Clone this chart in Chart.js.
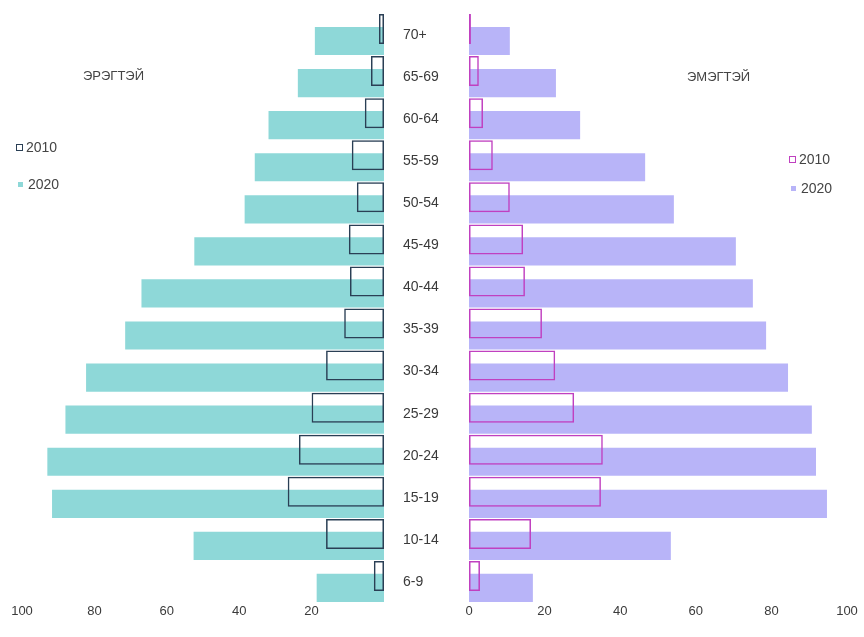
<!DOCTYPE html>
<html>
<head>
<meta charset="utf-8">
<script src="https://cdn.jsdelivr.net/npm/chart.js@4"></script>
<style>
    body { margin: 0; background: #fff; }
    #wrap { position: relative; width: 864px; height: 637px; font-family: "Liberation Sans", Arial, sans-serif; color: #3a3a3a; }
    canvas { position: absolute; top: 0; }
    #leftChart { left: 0; }
    #rightChart { left: 400px; }
    .label { position: absolute; font-size: 13px; white-space: nowrap; color: #444; }
    .leg { position: absolute; font-size: 14px; display: flex; align-items: center; color: #444; }
    .box { display: inline-block; width: 7px; height: 7px; margin-right: 3px; box-sizing: border-box; }
</style>
</head>
<body>
<div id="wrap">
    <canvas id="leftChart" width="400" height="637"></canvas>
    <canvas id="rightChart" width="464" height="637"></canvas>

    <div class="label" style="left:83px; top:68px;">ЭРЭГТЭЙ</div>
    <div class="label" style="left:687px; top:69px;">ЭМЭГТЭЙ</div>

    <div class="leg" style="left:16px; top:139px;"><span class="box" style="border:1.5px solid #2a3f55;"></span>2010</div>
    <div class="leg" style="left:16px; top:176px;"><span class="box" style="background:#8ed8d8; width:5px; height:5px; margin:0 5px 0 2px;"></span>2020</div>

    <div class="leg" style="left:789px; top:151px;"><span class="box" style="border:1.5px solid #c040c0;"></span>2010</div>
    <div class="leg" style="left:789px; top:180px;"><span class="box" style="background:#b8b4f8; width:5px; height:5px; margin:0 5px 0 2px;"></span>2020</div>
</div>

<script>
const ageGroups = ['70+', '65-69', '60-64', '55-59', '50-54', '45-49', '40-44', '35-39', '30-34', '25-29', '20-24', '15-19', '10-14', '6-9'];

const male2010 = [1.4, 3.6, 5.3, 8.9, 7.5, 9.7, 9.4, 11, 16, 20, 23.5, 26.6, 16, 2.8];
const male2020 = [19.1, 23.8, 31.9, 35.7, 38.5, 52.4, 67, 71.5, 82.3, 88, 93, 91.7, 52.6, 18.6];

const female2010 = [0.5, 2.6, 3.7, 6.3, 10.8, 14.3, 14.8, 19.3, 22.8, 27.8, 35.4, 34.9, 16.4, 2.9];
const female2020 = [10.8, 23, 29.4, 46.6, 54.2, 70.6, 75.1, 78.6, 84.4, 90.7, 91.8, 94.7, 53.4, 16.9];

const axisTicks = [0, 20, 40, 60, 80, 100];

Chart.defaults.font.family = '"Liberation Sans", Arial, sans-serif';
Chart.defaults.color = '#3a3a3a';

function barSets(old, now, lineColor, fillColor) {
    return [
        {
            label: '2010',
            data: old,
            backgroundColor: 'rgba(0,0,0,0)',
            borderColor: lineColor,
            borderWidth: 1.5,
            borderSkipped: false,
            categoryPercentage: 0.57,
            barPercentage: 2.5,
        },
        {
            label: '2020',
            data: now,
            backgroundColor: fillColor,
            borderWidth: 0,
            categoryPercentage: 0.57,
            barPercentage: 2.35,
        }
    ];
}

function xAxis(reverse, showZero) {
    return {
        type: 'linear',
        reverse: reverse,
        min: 0,
        max: 100,
        afterBuildTicks: (scale) => {
            scale.ticks = axisTicks.map(v => ({ value: v }));
        },
        afterFit: (scale) => { scale.height = 34; },
        grid: { display: false, drawTicks: false },
        border: { display: false },
        ticks: {
            padding: 1,
            font: { size: 13 },
            callback: (v) => (v === 0 && !showZero) ? '' : v,
        }
    };
}

const common = {
    indexAxis: 'y',
    responsive: false,
    devicePixelRatio: 1,
    animation: false,
    plugins: {
        legend: { display: false },
        tooltip: { enabled: false },
    },
};

new Chart(document.getElementById('leftChart'), {
    type: 'bar',
    data: {
        labels: ageGroups,
        datasets: barSets(male2010, male2020, '#2a3f55', '#8ed8d8'),
    },
    options: {
        ...common,
        layout: { padding: { left: 22, right: 16, top: 14, bottom: 0 } },
        scales: {
            x: xAxis(true, false),
            y: { display: false },
        }
    }
});

new Chart(document.getElementById('rightChart'), {
    type: 'bar',
    data: {
        labels: ageGroups,
        datasets: barSets(female2010, female2020, '#c040c0', '#b8b4f8'),
    },
    options: {
        ...common,
        layout: { padding: { left: 3, right: 17, top: 14, bottom: 0 } },
        scales: {
            x: xAxis(false, true),
            y: {
                afterFit: (scale) => { scale.width = 66; },
                grid: { display: false, drawTicks: false },
                border: { display: false },
                ticks: {
                    crossAlign: 'far',
                    padding: 0,
                    font: { size: 14 },
                }
            }
        }
    }
});
</script>
</body>
</html>
